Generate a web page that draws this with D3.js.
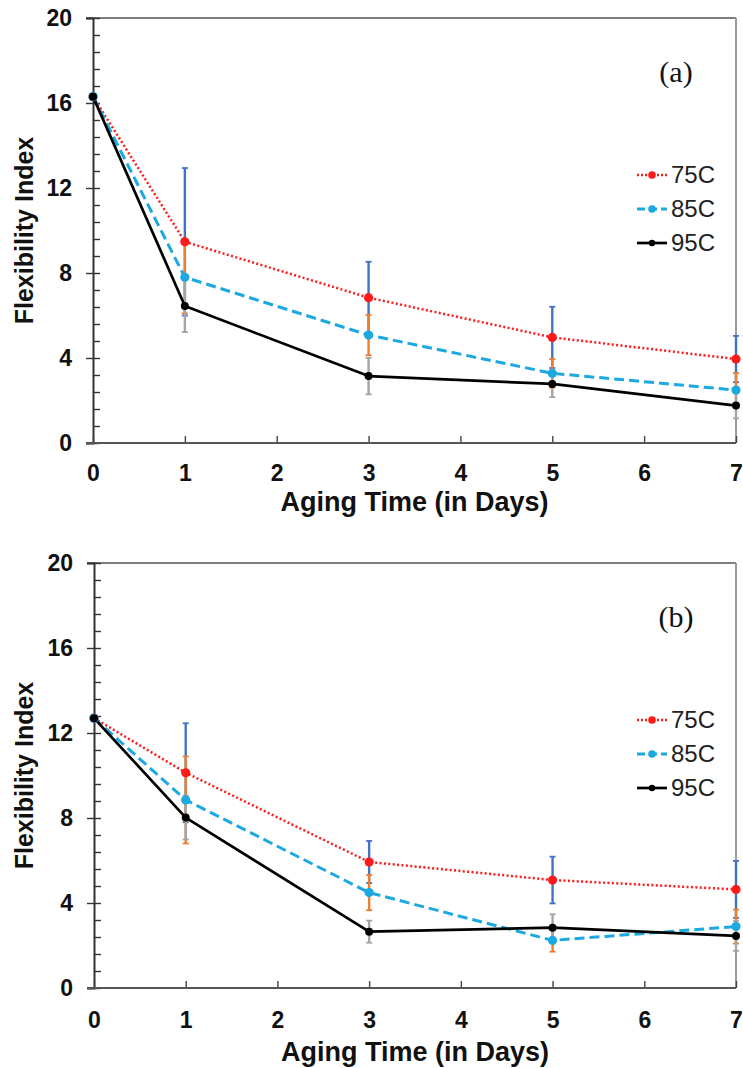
<!DOCTYPE html>
<html>
<head>
<meta charset="utf-8">
<script src="https://cdn.jsdelivr.net/npm/d3@7/dist/d3.min.js"></script>
<style>
  html, body { margin: 0; padding: 0; background: #fff; }
  svg { display: block; }
</style>
</head>
<body>
<svg id="chart" width="743" height="1068"></svg>
<script>
// Aging days on the x axis
const days = [0, 1, 3, 5, 7];
const xTicks = [0, 1, 2, 3, 4, 5, 6, 7];
const yTicks = [0, 4, 8, 12, 16, 20];
const seriesNames = ["75C", "85C", "95C"];

// Panel (a): flexibility index and error half-widths
const fiA75 = [16.3, 9.47, 6.84, 4.97, 3.95];
const fiA85 = [16.3, 7.80, 5.08, 3.28, 2.49];
const fiA95 = [16.3, 6.45, 3.15, 2.78, 1.76];
const errA75 = [0, 3.47, 1.69, 1.44, 1.09];
const errA85 = [0, 1.70, 0.95, 0.67, 0.80];
const errA95 = [0, 1.23, 0.86, 0.62, 0.60];

// Panel (b): flexibility index and error half-widths
const fiB75 = [12.7, 10.13, 5.93, 5.08, 4.64];
const fiB85 = [12.7, 8.85, 4.49, 2.24, 2.89];
const fiB95 = [12.7, 8.02, 2.65, 2.84, 2.45];
const errB75 = [0, 2.33, 0.99, 1.10, 1.34];
const errB85 = [0, 2.05, 0.83, 0.53, 0.80];
const errB95 = [0, 1.03, 0.52, 0.63, 0.70];

const lineStyles = [
  { color: "#ff1a1a", width: 2.5, dash: "2 2.4", r: 4.6, err: "#4472c4" },
  { color: "#1ca8e0", width: 3, dash: "10 5", r: 4.6, err: "#ed7d31" },
  { color: "#000000", width: 2.7, dash: null, r: 4, err: "#a5a5a5" }
];

const svg = d3.select("#chart");
svg.append("rect").attr("width", 743).attr("height", 1068).attr("fill", "#fff");

function drawPanel(box, values, errors, tag) {
  const g = svg.append("g");
  const x = d3.scaleLinear().domain([0, 7]).range([box.left, box.right]);
  const y = d3.scaleLinear().domain([0, 20]).range([box.bottom, box.top]);

  // frame: top and right edges
  g.append("line").attr("x1", box.left - 7).attr("x2", box.right)
    .attr("y1", box.top).attr("y2", box.top)
    .attr("stroke", "#7f7f7f").attr("stroke-width", 2);
  g.append("line").attr("x1", box.right).attr("x2", box.right)
    .attr("y1", box.top).attr("y2", box.bottom)
    .attr("stroke", "#9a9a9a").attr("stroke-width", 2);

  // minor + major ticks on the inside of the y axis
  const minor = d3.range(0, 20.001, 0.8);
  g.append("g").attr("transform", `translate(${box.left},0)`)
    .call(d3.axisRight(y).tickValues(minor).tickSize(7).tickFormat(""))
    .call(s => s.select(".domain").remove())
    .selectAll("line").attr("stroke", "#333").attr("stroke-width", 1.4);

  // major ticks with labels on the outside
  const yAxis = g.append("g").attr("transform", `translate(${box.left},0)`)
    .call(d3.axisLeft(y).tickValues(yTicks).tickSize(7).tickPadding(14).tickFormat(d3.format("d")));
  yAxis.select(".domain").attr("stroke", "#333").attr("stroke-width", 2);
  yAxis.selectAll("line").attr("stroke", "#333").attr("stroke-width", 1.4);
  yAxis.selectAll("text")
    .attr("font-family", "'Liberation Sans', Arial, sans-serif")
    .attr("font-weight", "bold").attr("font-size", 23).attr("fill", "#111");

  // x axis with inward ticks
  const xAxis = g.append("g").attr("transform", `translate(0,${box.bottom})`)
    .call(d3.axisBottom(x).tickValues(xTicks).tickSize(-7).tickFormat(d3.format("d")));
  xAxis.select(".domain").remove();
  xAxis.selectAll("line").attr("stroke", "#444").attr("stroke-width", 1.4);
  xAxis.selectAll("text")
    .attr("y", box.xLabelOffset).attr("dy", 0)
    .attr("font-family", "'Liberation Sans', Arial, sans-serif")
    .attr("font-weight", "bold").attr("font-size", 23).attr("fill", "#111");
  g.append("line").attr("x1", box.left - 7).attr("x2", box.right)
    .attr("y1", box.bottom).attr("y2", box.bottom)
    .attr("stroke", "#555").attr("stroke-width", 2);

  // axis titles
  g.append("text")
    .attr("x", (box.left + box.right) / 2).attr("y", box.bottom + box.titleOffset)
    .attr("text-anchor", "middle")
    .attr("font-family", "'Liberation Sans', Arial, sans-serif")
    .attr("font-weight", "bold").attr("font-size", 27).attr("fill", "#111")
    .text("Aging Time (in Days)");
  g.append("text")
    .attr("transform", `translate(33,${(box.top + box.bottom) / 2}) rotate(-90)`)
    .attr("text-anchor", "middle")
    .attr("font-family", "'Liberation Sans', Arial, sans-serif")
    .attr("font-weight", "bold").attr("font-size", 25).attr("fill", "#111")
    .text("Flexibility Index");

  // error bars, drawn per series so later series sit on top
  values.forEach((vals, si) => {
    const st = lineStyles[si];
    const eg = g.append("g");
    days.forEach((d, i) => {
      const e = errors[si][i];
      if (!e) return;
      const cx = x(d), y1 = y(vals[i] + e), y2 = y(vals[i] - e);
      eg.append("line").attr("x1", cx).attr("x2", cx).attr("y1", y1).attr("y2", y2)
        .attr("stroke", st.err).attr("stroke-width", 2.4);
      [y1, y2].forEach(yy => eg.append("line")
        .attr("x1", cx - 3).attr("x2", cx + 3).attr("y1", yy).attr("y2", yy)
        .attr("stroke", st.err).attr("stroke-width", 1.8));
    });
  });

  // series lines
  const line = d3.line().x((d, i) => x(days[i])).y(d => y(d));
  values.forEach((vals, si) => {
    const st = lineStyles[si];
    g.append("path").datum(vals).attr("d", line)
      .attr("fill", "none").attr("stroke", st.color)
      .attr("stroke-width", st.width)
      .attr("stroke-dasharray", st.dash)
      .attr("stroke-linejoin", "round");
  });
  // markers
  values.forEach((vals, si) => {
    const st = lineStyles[si];
    g.append("g").selectAll("circle").data(vals).join("circle")
      .attr("cx", (d, i) => x(days[i])).attr("cy", d => y(d))
      .attr("r", st.r).attr("fill", st.color);
  });

  // legend
  const lg = g.append("g");
  seriesNames.forEach((name, si) => {
    const st = lineStyles[si];
    const ly = box.top + 157 + si * 34;
    lg.append("line").attr("x1", 637).attr("x2", 667).attr("y1", ly).attr("y2", ly)
      .attr("stroke", st.color).attr("stroke-width", st.width)
      .attr("stroke-dasharray", si === 0 ? "2 2" : (si === 1 ? "8 4" : null));
    lg.append("circle").attr("cx", 652).attr("cy", ly).attr("r", st.r - 0.8).attr("fill", st.color);
    lg.append("text").attr("x", 671).attr("y", ly + 8)
      .attr("font-family", "'Liberation Sans', Arial, sans-serif")
      .attr("font-size", 24).attr("fill", "#222").text(name);
  });

  // panel tag
  g.append("text").attr("x", 676).attr("y", box.top + 64)
    .attr("text-anchor", "middle")
    .attr("font-family", "'Liberation Serif', 'Times New Roman', serif")
    .attr("font-size", 30).attr("fill", "#111").text(tag);
}

drawPanel({ left: 93, right: 736, top: 18, bottom: 443, xLabelOffset: 38, titleOffset: 68 },
  [fiA75, fiA85, fiA95], [errA75, errA85, errA95], "(a)");
drawPanel({ left: 94, right: 736, top: 563, bottom: 988, xLabelOffset: 40, titleOffset: 73 },
  [fiB75, fiB85, fiB95], [errB75, errB85, errB95], "(b)");
</script>
</body>
</html>
